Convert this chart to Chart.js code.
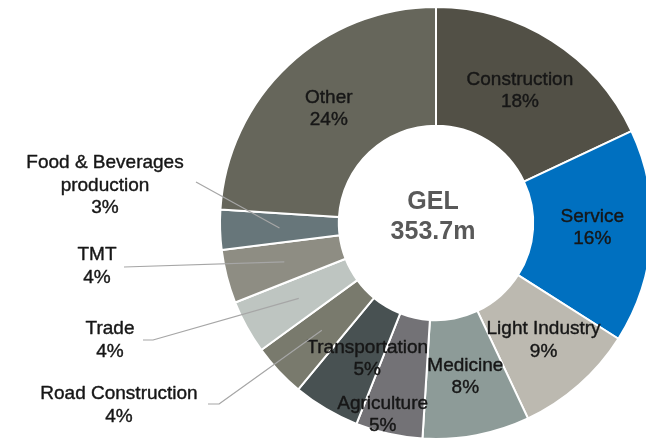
<!DOCTYPE html>
<html lang="en">
  <head>
    <meta charset="UTF-8" />
    <title>Loan portfolio by sector</title>
    <script src="https://cdn.jsdelivr.net/npm/chart.js"></script>
    <style>
      html, body { margin: 0; padding: 0; background: #fff; overflow: hidden; width: 646px; height: 443px; }
      #wrap { position: absolute; left: 0; top: 0; }
    </style>
  </head>
  <body>
    <div id="wrap">
      <canvas id="myChart" width="872" height="446"></canvas>
    </div>
  </body>
  <script>
    // data (clockwise from 12 o'clock)
    const categories = [
      "Construction", "Service", "Light Industry", "Medicine", "Agriculture",
      "Transportation", "Road Construction", "Trade", "TMT",
      "Food & Beverages production", "Other"
    ];
    const shares = [18, 16, 9, 8, 5, 5, 4, 4, 4, 3, 24];
    const centerLines = ["GEL", "353.7m"];

    const colors = [
      "#525046", "#0070c0", "#bcb9b0", "#8d9b98", "#737276",
      "#485152", "#797a6d", "#bec5c1", "#8e8d83", "#67767a", "#66665b"
    ];

    // label wrapping + placement
    const wrapText = { "Food & Beverages production": ["Food & Beverages", "production"] };
    const nudge = { "Service": [0, -5], "Light Industry": [4, 0], "Agriculture": [-10, -2], "Transportation": [11, 1] };
    const outerPush = { "Agriculture": 42 };
    const outside = {
      "Food & Beverages production": { x: 105, y: 163, path: [[196, 182]] },
      "TMT": { x: 97, y: 255, path: [[124, 267]] },
      "Trade": { x: 110, y: 329, path: [[153, 340], [143, 340]] },
      "Road Construction": { x: 119, y: 394, path: [[219, 404], [208, 404]] }
    };

    const FONT = '19px "Liberation Sans", Arial, sans-serif';
    const LH = 22.5;
    const TXT = "#161616";

    // text slightly heavier, like the original rendering
    function heavyText(c, t, x, y) {
      c.strokeText(t, x, y);
      c.fillText(t, x, y);
    }

    const labelPlugin = {
      id: "sliceLabels",
      afterDatasetsDraw(chart) {
        const c = chart.ctx;
        const meta = chart.getDatasetMeta(0);
        c.save();
        c.font = FONT;
        c.textAlign = "center";
        c.textBaseline = "middle";
        c.lineJoin = "round";

        meta.data.forEach((arc, i) => {
          const name = categories[i];
          const lines = (wrapText[name] || [name]).concat([shares[i] + "%"]);
          const mid = (arc.startAngle + arc.endAngle) / 2;
          const midR = (arc.innerRadius + arc.outerRadius) / 2;

          if (outside[name]) {
            const o = outside[name];
            c.strokeStyle = "#a6a6a6";
            c.lineWidth = 1.2;
            c.beginPath();
            c.moveTo(arc.x + midR * Math.cos(mid), arc.y + midR * Math.sin(mid));
            o.path.forEach((p) => c.lineTo(p[0], p[1]));
            c.stroke();
            c.fillStyle = TXT;
            c.strokeStyle = TXT;
            c.lineWidth = 0.4;
            lines.forEach((t, k) => heavyText(c, t, o.x, o.y + k * LH));
            return;
          }

          const r = midR + (outerPush[name] || 0);
          const d = nudge[name] || [0, 0];
          const px = arc.x + r * Math.cos(mid) + d[0];
          const py = arc.y + r * Math.sin(mid) + d[1];
          c.fillStyle = TXT;
          c.strokeStyle = TXT;
          c.lineWidth = 0.4;
          const top = py - ((lines.length - 1) * LH) / 2;
          lines.forEach((t, k) => heavyText(c, t, px, top + k * LH));
        });

        // centre text
        const a = meta.data[0];
        c.fillStyle = "#595959";
        c.font = 'bold 25px "Liberation Sans", Arial, sans-serif';
        c.fillText(centerLines[0], a.x - 3, a.y - 21);
        c.fillText(centerLines[1], a.x - 3, a.y + 9);
        c.restore();
      }
    };

    const ctx = document.querySelector("#myChart");

    const ejCt = new Chart(ctx, {
      type: "doughnut",
      data: {
        labels: categories,
        datasets: [
          {
            data: shares,
            backgroundColor: colors,
            borderColor: "#ffffff",
            borderWidth: 2,
          },
        ],
      },
      options: {
        responsive: false,
        animation: false,
        cutout: "45%",
        layout: { padding: { top: 6, bottom: 6 } },
        plugins: {
          legend: { display: false },
          tooltip: { enabled: false },
        },
      },
      plugins: [labelPlugin],
    });
  </script>
</html>
